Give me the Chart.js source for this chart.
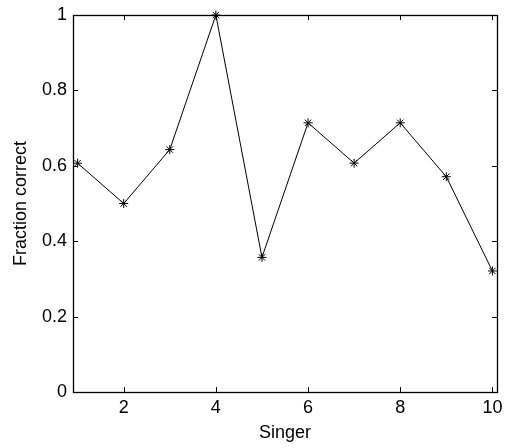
<!DOCTYPE html>
<html>
<head>
<meta charset="utf-8">
<script src="https://cdn.jsdelivr.net/npm/chart.js@4/dist/chart.umd.min.js"></script>
<style>
html,body{margin:0;padding:0;background:#fff;}
#wrap{width:506px;height:448px;}
</style>
</head>
<body>
<div id="wrap"><canvas id="c" width="506" height="448"></canvas></div>
<script>
const singers = [1, 2, 3, 4, 5, 6, 7, 8, 9, 10];
const fractionCorrect = [0.607, 0.5, 0.643, 1.0, 0.357, 0.714, 0.607, 0.714, 0.571, 0.321];
const xTicks = [2, 4, 6, 8, 10];
const yTicks = [0, 0.2, 0.4, 0.6, 0.8, 1];
const xLabel = 'Singer';
const yLabel = 'Fraction correct';

const FONT = '"Liberation Sans", Arial, Helvetica, sans-serif';

const boxTicks = {
  id: 'boxTicks',
  afterDatasetsDraw(chart) {
    const {ctx, chartArea: a, scales: {x, y}} = chart;
    const L = 5;
    ctx.save();
    ctx.strokeStyle = '#000';
    ctx.lineWidth = 1;
    ctx.beginPath();
    xTicks.forEach(v => {
      const px = Math.round(x.getPixelForValue(v)) + 0.5;
      ctx.moveTo(px, a.bottom); ctx.lineTo(px, a.bottom - L);
      ctx.moveTo(px, a.top); ctx.lineTo(px, a.top + L);
    });
    yTicks.forEach(v => {
      const py = Math.round(y.getPixelForValue(v)) + 0.5;
      ctx.moveTo(a.left, py); ctx.lineTo(a.left + L, py);
      ctx.moveTo(a.right, py); ctx.lineTo(a.right - L, py);
    });
    ctx.stroke();
    ctx.lineWidth = 1.3;
    ctx.strokeRect(Math.round(a.left) + 0.5, Math.round(a.top) + 0.5,
                   Math.round(a.right - a.left), Math.round(a.bottom - a.top));
    ctx.restore();
  }
};

function noPad(s) {
  s.paddingLeft = 0; s.paddingRight = 0; s.paddingTop = 0; s.paddingBottom = 0;
}

new Chart(document.getElementById('c'), {
  type: 'line',
  data: {
    datasets: [{
      data: singers.map((s, i) => ({x: s, y: fractionCorrect[i]})),
      borderColor: '#000',
      borderWidth: 1,
      pointStyle: 'star',
      pointRadius: 4.5,
      pointBorderColor: '#000',
      pointBorderWidth: 1,
      pointBackgroundColor: '#000',
      tension: 0,
      clip: false
    }]
  },
  options: {
    responsive: false,
    devicePixelRatio: 1,
    animation: false,
    layout: {padding: {top: 15, right: 9, left: 0, bottom: 0}},
    plugins: {legend: {display: false}, tooltip: {enabled: false}},
    scales: {
      x: {
        type: 'linear',
        min: 0.9,
        max: 10.1,
        afterBuildTicks: s => { s.ticks = xTicks.map(v => ({value: v})); },
        afterFit: s => { s.height = 56; noPad(s); },
        grid: {display: false, drawTicks: false},
        border: {display: false},
        ticks: {
          color: '#000',
          font: {family: FONT, size: 18},
          padding: 5,
          maxRotation: 0,
          callback: v => String(v)
        },
        title: {
          display: true, text: xLabel, color: '#000',
          font: {family: FONT, size: 18},
          padding: {top: 0, bottom: 4}
        }
      },
      y: {
        min: 0,
        max: 1,
        afterBuildTicks: s => { s.ticks = yTicks.map(v => ({value: v})); },
        afterFit: s => { s.width = 73; noPad(s); },
        grid: {display: false, drawTicks: false},
        border: {display: false},
        ticks: {
          color: '#000',
          font: {family: FONT, size: 18},
          padding: 6,
          callback: v => String(+v.toFixed(1))
        },
        title: {
          display: true, text: yLabel, color: '#000',
          font: {family: FONT, size: 18},
          padding: {top: 10, bottom: 0}
        }
      }
    }
  },
  plugins: [boxTicks]
});
</script>
</body>
</html>
